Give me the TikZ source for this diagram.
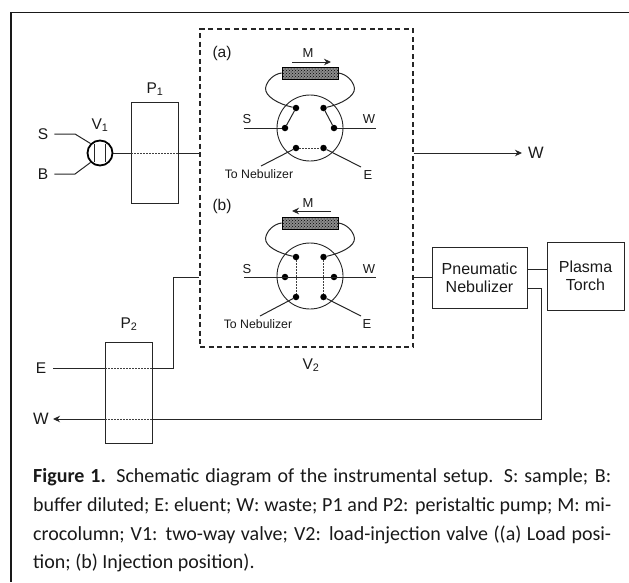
\documentclass[tikz,border=0pt]{standalone}
\usepackage{fontspec}
\setmainfont{Liberation Sans}
\newfontfamily\capfont{Carlito}
\usetikzlibrary{arrows.meta,calc,patterns}
\tikzset{
 x=1pt,y=-1pt,
 ln/.style={line width=1pt,black!85},
 dots/.style={line width=1pt,black!75,dash pattern=on 1.6pt off 1.4pt},
 lab/.style={font=\fontsize{15.5}{18}\selectfont,inner sep=0pt,text=black!90},
 small/.style={font=\fontsize{13}{15}\selectfont,inner sep=0pt,text=black!90},
 nebtext/.style={font=\fontsize{12.3}{15}\selectfont,inner sep=0pt,text=black!90},
 port/.style={circle,fill=black,inner sep=0pt,minimum size=6.5pt},
 column/.style={draw=black,line width=0.8pt,preaction={fill=black!45},pattern=crosshatch dots,minimum width=56pt,minimum height=12pt,inner sep=0pt},
 valve/.style={circle,draw=black!85,line width=0.9pt,minimum size=66pt,inner sep=0pt},
 tip/.style={-{Stealth[length=7pt,width=6.5pt]}},
 pump/.style={draw=black!85,line width=1pt,minimum width=47pt,minimum height=101pt,inner sep=0pt},
 unit/.style={draw=black!85,line width=1pt,align=center,inner sep=0pt,font=\fontsize{16}{18}\selectfont,text=black!90},
}
\newcommand{\loops}[1]{%
 \draw[ln] (#1p1) .. controls +(-18,-4) and ($(#1c.west)+(-17,23)$) .. ($(#1c.west)+(-16,15)$) .. controls +(1,-7) and ($(#1c.west)+(-8,1)$) .. (#1c.west);
 \draw[ln] (#1p2) .. controls +(18,-4) and ($(#1c.east)+(17,23)$) .. ($(#1c.east)+(16,15)$) .. controls +(-1,-7) and ($(#1c.east)+(8,1)$) .. (#1c.east);
}
\newcommand{\capline}[1]{\makebox[578pt][s]{#1}}
\begin{document}
\begin{tikzpicture}
\useasboundingbox (0,0) rectangle (629,582);
% outer frame
\draw[line width=1.6pt,black!90] (629,12.5) -- (11,12.5) -- (11,582);
% dashed box V2
\node[draw=black!85,line width=1.2pt,dash pattern=on 5pt off 3.5pt,minimum width=213pt,minimum height=318pt,inner sep=0pt] (v2) at (306.5,188) {};
\node[lab] (v2lab) at (311,365) {V\textsubscript{2}};
% Valve (a)
\node[valve] (av) at (310,128) {};
\node[column] (ac) at (310,73) {};
\node[port] (ap1) at (296,108) {};
\node[port] (ap2) at (323.5,108) {};
\node[port] (ap3) at (285,128) {};
\node[port] (ap4) at (334,128) {};
\node[port] (ap5) at (296,148) {};
\node[port] (ap6) at (323.5,148) {};
\loops{a}
\draw[ln] (ap1) -- (ap3);
\draw[ln] (ap2) -- (ap4);
\draw[dots] (ap5) -- (ap6);
\coordinate (as) at (244,128);
\coordinate (aw) at (376,128);
\coordinate (an) at (261,166);
\coordinate (ae) at (361,167);
\draw[ln] (as) -- (ap3);
\draw[ln] (ap4) -- (aw);
\draw[ln] (ap5) -- (an);
\draw[ln] (ap6) -- (ae);
\node[lab] at (222,53) {(a)};
\node[small] at (308,53) {M};
\coordinate (am1) at (292,62);
\coordinate (am2) at (331,62);
\draw[ln,tip] (am1) -- (am2);
\node[small] at (247,119) {S};
\node[small] at (369,119) {W};
\node[nebtext] at (259,174.5) {To Nebulizer};
\node[small] at (368,175) {E};
% Valve (b)
\node[valve] (bv) at (310,276) {};
\node[column] (bc) at (310,223) {};
\node[port] (bp1) at (296,257) {};
\node[port] (bp2) at (323.5,257) {};
\node[port] (bp3) at (285,277) {};
\node[port] (bp4) at (334,277) {};
\node[port] (bp5) at (296,297) {};
\node[port] (bp6) at (323.5,297) {};
\loops{b}
\draw[dots] (bp1) -- (bp5);
\draw[dots] (bp2) -- (bp6);
\coordinate (bs) at (244,277);
\coordinate (bw) at (376,277);
\coordinate (bn) at (260,316);
\coordinate (be) at (361,316);
\draw[ln] (bs) -- (bw);
\draw[ln] (bp5) -- (bn);
\draw[ln] (bp6) -- (be);
\node[lab] at (222,206) {(b)};
\node[small] at (308,203) {M};
\coordinate (bm1) at (331,211);
\coordinate (bm2) at (292,211);
\draw[ln,tip] (bm1) -- (bm2);
\node[small] at (247,269) {S};
\node[small] at (369,269) {W};
\node[nebtext] at (258,324) {To Nebulizer};
\node[small] at (367,324) {E};
% V1
\node[circle,draw=black,line width=1.8pt,minimum size=25pt,inner sep=0pt] (v1) at (100,153) {};
\draw[ln] (94,144) -- (94,162);
\draw[ln] (105,144) -- (105,162);
\node[lab] at (100,125) {V\textsubscript{1}};
\node[lab] (s) at (43,134) {S};
\node[lab] (b) at (43,174) {B};
\draw[ln] (s.east) ++(6,0) -- (75,134) -- (v1.135);
\draw[ln] (b.east) ++(6,0) -- (75,174) -- (v1.225);
% P1
\node[pump] (p1) at (155,152.5) {};
\node[lab] at (155,89) {P\textsubscript{1}};
\draw[ln] (v1.east) -- (p1.west |- v1.east);
\draw[dots] (p1.west |- v1.east) -- (p1.east |- v1.east);
\draw[ln] (p1.east |- v1.east) -- (v2.west |- v1.east);
% V2 -> W
\node[lab,font=\fontsize{16.5}{18}\selectfont] (wout) at (536,153) {W};
\draw[ln,tip] (v2.east |- v1.east) -- (522,153);
% P2
\node[pump] (p2) at (128.5,392.5) {};
\node[lab] at (129,324) {P\textsubscript{2}};
\node[lab] (e) at (41,368) {E};
\draw[ln] (53,368) -- (105,368);
\draw[dots] (105,368) -- (152,368);
\draw[ln] (152,368) -- (173,368) -- (173,277) -- (v2.west |- 0,277);
% Nebulizer, torch
\node[unit,minimum width=95pt,minimum height=61pt] (neb) at (479.5,277.5) {Pneumatic\\Nebulizer};
\node[unit,minimum width=77pt,minimum height=68pt] (torch) at (585.5,276) {Plasma\\Torch};
\draw[ln] (v2.east |- 0,277) -- (neb.west |- 0,277);
\draw[ln] (neb.east |- 0,269) -- (torch.west |- 0,269);
\node[lab,font=\fontsize{16.5}{18}\selectfont] (wback) at (41,419) {W};
\coordinate (wtip) at (53,419);
\draw[ln] (neb.east |- 0,288) -- (541,288) -- (541,419) -- (152,419);
\draw[dots] (152,419) -- (105,419);
\draw[ln,tip] (105,419) -- (wtip);
% caption
\begin{scope}[every node/.style={anchor=base west,inner sep=0pt,font=\capfont\fontsize{20}{22}\selectfont,text=black!90}]
\node (c1) at (33,482) {\capline{\textbf{Figure 1.} Schematic diagram of the instrumental setup. S: sample; B:}};
\node (c2) at (33,511) {\capline{buffer diluted; E: eluent; W: waste; P1 and P2: peristaltic pump; M: mi-}};
\node (c3) at (33,540) {\capline{crocolumn; V1: two-way valve; V2: load-injection valve ((a) Load posi-}};
\node (c4) at (33,568) {tion; (b) Injection position).};
\end{scope}
\end{tikzpicture}
\end{document}
